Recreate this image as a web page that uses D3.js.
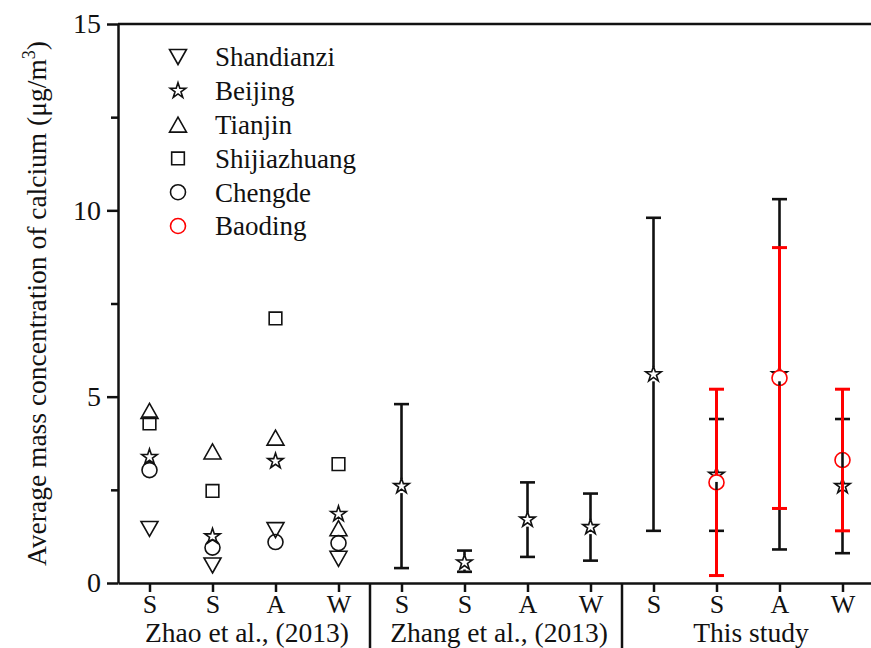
<!DOCTYPE html>
<html>
<head>
<meta charset="utf-8">
<script src="https://cdn.jsdelivr.net/npm/d3@7/dist/d3.min.js"></script>
<style>
  body { margin: 0; background: #fff; }
  svg { display: block; font-family: "Liberation Serif", "Times New Roman", serif; }
</style>
</head>
<body>
<svg id="chart" width="871" height="648"></svg>
<script>
// Season of each sampling campaign, one per x position (1..12)
const seasons = ["S", "S", "A", "W", "S", "S", "A", "W", "S", "S", "A", "W"];
const groupLabels = ["Zhao et al., (2013)", "Zhang et al., (2013)", "This study"];
const groupFirst = [1, 5, 9];
const groupLast = [4, 8, 12];
const yTicks = [0, 5, 10, 15];
const yMinorTicks = [2.5, 7.5, 12.5];

// Zhao et al. (2013), positions 1-4
const zhaoX = [1, 2, 3, 4];
const shandianzi = [1.45, 0.47, 1.42, 0.65];
const beijingZhao = [3.38, 1.25, 3.27, 1.85];
const tianjin = [4.62, 3.53, 3.9, 1.47];
const shijiazhuang = [4.28, 2.47, 7.1, 3.19];
const chengde = [3.03, 0.95, 1.1, 1.07];

// Zhang et al. (2013), Beijing, positions 5-8
const zhangX = [5, 6, 7, 8];
const beijingZhang = [2.6, 0.55, 1.7, 1.5];
const beijingZhangLow = [0.4, 0.3, 0.7, 0.6];
const beijingZhangHigh = [4.8, 0.87, 2.7, 2.4];

// This study, Beijing, positions 9-12
const thisX = [9, 10, 11, 12];
const beijingThis = [5.6, 2.9, 5.6, 2.6];
const beijingThisLow = [1.4, 1.4, 0.9, 0.8];
const beijingThisHigh = [9.8, 4.4, 10.3, 4.4];

// This study, Baoding, positions 10-12
const baodingX = [10, 11, 12];
const baoding = [2.7, 5.5, 3.3];
const baodingLow = [0.2, 2.0, 1.4];
const baodingHigh = [5.2, 9.0, 5.2];

const legendNames = ["Shandianzi", "Beijing", "Tianjin", "Shijiazhuang", "Chengde", "Baoding"];

const ink = "#111";
const red = "#ff0000";

const svg = d3.select("#chart");
const plotLeft = 118, plotTop = 24, plotBottom = 583, plotRight = 874;

const x = d3.scaleLinear().domain([0.5, 12.5]).range([plotLeft, plotRight]);
const y = d3.scaleLinear().domain([0, 15]).range([plotBottom, plotTop]);

// Triangles centred on their bounding box
const triUp = { draw(ctx, size) { const h = Math.sqrt(size) / 2, w = h * 1.13;
  ctx.moveTo(0, -h); ctx.lineTo(w, h); ctx.lineTo(-w, h); ctx.closePath(); } };
const triDown = { draw(ctx, size) { const h = Math.sqrt(size) / 2, w = h * 1.13;
  ctx.moveTo(0, h); ctx.lineTo(w, -h); ctx.lineTo(-w, -h); ctx.closePath(); } };

const shapes = {
  down: d3.symbol().type(triDown).size(225)(),
  star: d3.symbol().type(d3.symbolStar).size(74)(),
  up: d3.symbol().type(triUp).size(225)(),
  square: d3.symbol().type(d3.symbolSquare).size(160)(),
  circle: d3.symbol().type(d3.symbolCircle).size(Math.PI * 7.5 * 7.5)()
};

// Top border of the frame
svg.append("line").attr("x1", plotLeft).attr("x2", plotRight).attr("y1", plotTop).attr("y2", plotTop)
  .attr("stroke", ink).attr("stroke-width", 2.5);

// Group separators below the axis
[4.5, 8.5].forEach(v => {
  svg.append("line").attr("x1", x(v)).attr("x2", x(v)).attr("y1", plotBottom).attr("y2", 648)
    .attr("stroke", ink).attr("stroke-width", 2.5);
});

// Y axis
const yAxis = svg.append("g").attr("transform", `translate(${plotLeft},0)`)
  .call(d3.axisLeft(y).tickValues(yTicks).tickSize(11).tickPadding(6).tickSizeOuter(0));
svg.append("g").attr("transform", `translate(${plotLeft},0)`)
  .call(d3.axisLeft(y).tickValues(yMinorTicks).tickSize(7).tickFormat("").tickSizeOuter(0))
  .select(".domain").remove();

// X axis
const xAxis = svg.append("g").attr("transform", `translate(0,${plotBottom})`)
  .call(d3.axisBottom(x).tickValues(d3.range(1, 13)).tickFormat(i => seasons[i - 1])
    .tickSize(9).tickPadding(3).tickSizeOuter(0));

svg.selectAll(".domain").attr("stroke", ink).attr("stroke-width", 2.5);
svg.selectAll(".tick line").attr("stroke", ink).attr("stroke-width", 2.5);
yAxis.selectAll("text").attr("font-size", 28).attr("fill", ink).attr("font-family", "Liberation Serif");
xAxis.selectAll("text").attr("font-size", 26).attr("fill", ink).attr("font-family", "Liberation Serif");

// Group labels
groupLabels.forEach((g, i) => {
  svg.append("text").attr("x", (x(groupFirst[i]) + x(groupLast[i])) / 2 + 3).attr("y", 642)
    .attr("text-anchor", "middle").attr("font-size", 27.5).attr("fill", ink).text(g);
});

// Y axis title
const title = svg.append("text")
  .attr("transform", `translate(46,${(plotTop + plotBottom) / 2}) rotate(-90)`)
  .attr("text-anchor", "middle").attr("font-size", 27.5).attr("fill", ink);
title.append("tspan").text("Average mass concentration of calcium (\u03bcg/m");
title.append("tspan").attr("font-size", 18).attr("dy", -11).text("3");
title.append("tspan").attr("dy", 11).text(")");

// Error bars that stop at the symbol edge
function errorBars(xs, mean, low, high, color, gap, width) {
  const g = svg.append("g").attr("stroke", color).attr("stroke-width", width).attr("fill", "none");
  xs.forEach((xv, i) => {
    const cx = x(xv), cy = y(mean[i]);
    g.append("line").attr("x1", cx).attr("x2", cx).attr("y1", y(high[i])).attr("y2", cy - gap);
    g.append("line").attr("x1", cx).attr("x2", cx).attr("y1", cy + gap).attr("y2", y(low[i]));
    g.append("line").attr("x1", cx - 7.5).attr("x2", cx + 7.5).attr("y1", y(high[i])).attr("y2", y(high[i]));
    g.append("line").attr("x1", cx - 7.5).attr("x2", cx + 7.5).attr("y1", y(low[i])).attr("y2", y(low[i]));
  });
}

function markers(xs, vals, shape, color, fill) {
  svg.append("g").selectAll("path").data(vals).join("path")
    .attr("d", shapes[shape])
    .attr("transform", (d, i) => `translate(${x(xs[i])},${y(d)})`)
    .attr("fill", fill || "none").attr("stroke", color).attr("stroke-width", 1.6);
}

// Zhao et al. points
markers(zhaoX, shandianzi, "down", ink);
markers(zhaoX, beijingZhao, "star", ink);
markers(zhaoX, tianjin, "up", ink);
markers(zhaoX, shijiazhuang, "square", ink);
markers(zhaoX, chengde, "circle", ink);

// Zhang et al. Beijing with ranges
errorBars(zhangX, beijingZhang, beijingZhangLow, beijingZhangHigh, ink, 7, 2.6);
markers(zhangX, beijingZhang, "star", ink);

// This study: symbols first, then the Beijing and Baoding ranges on top
markers(thisX, beijingThis, "star", ink, "#fff");
markers(baodingX, baoding, "circle", red, "#fff");
errorBars(thisX, beijingThis, beijingThisLow, beijingThisHigh, ink, 7, 2.6);
errorBars(baodingX, baoding, baodingLow, baodingHigh, red, 7.5, 3);

// Legend
const legendShapes = ["down", "star", "up", "square", "circle", "circle"];
const legendColors = [ink, ink, ink, ink, ink, red];
legendNames.forEach((name, i) => {
  const ly = 57 + 33.8 * i;
  svg.append("path").attr("d", shapes[legendShapes[i]])
    .attr("transform", `translate(178,${ly})`)
    .attr("fill", "none").attr("stroke", legendColors[i]).attr("stroke-width", 1.6);
  svg.append("text").attr("x", 215).attr("y", ly).attr("dy", "0.35em")
    .attr("font-size", 27).attr("fill", ink).text(name);
});
</script>
</body>
</html>
